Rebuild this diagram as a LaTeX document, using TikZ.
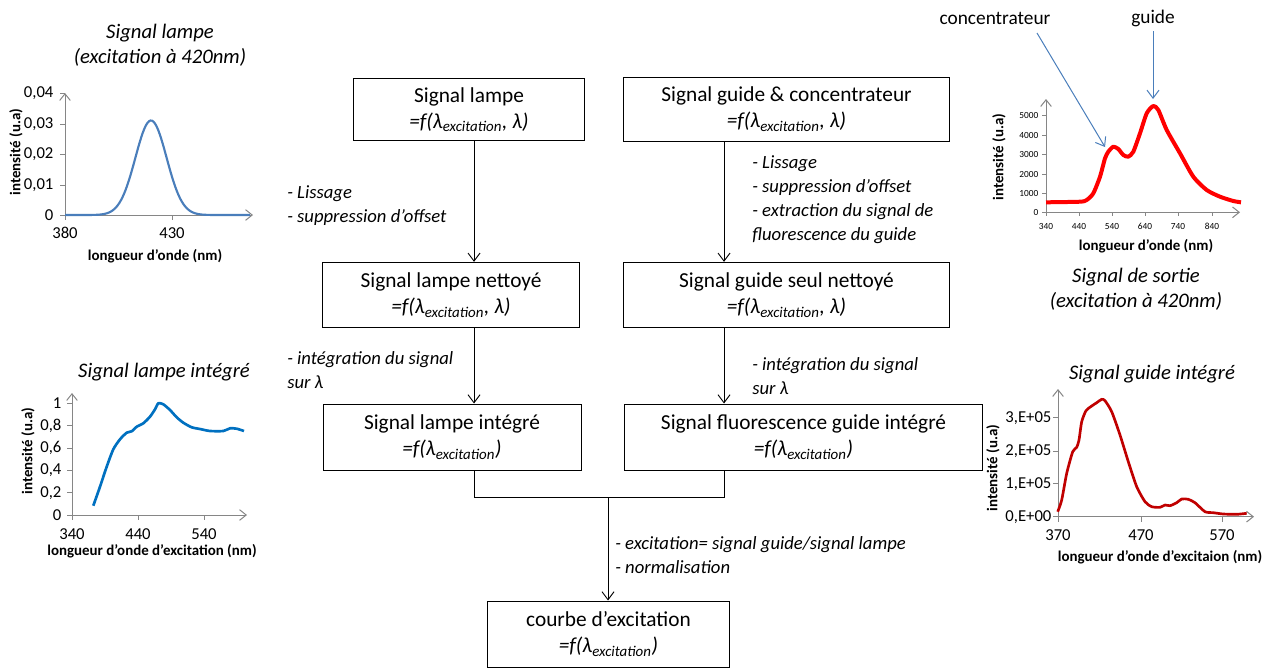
\documentclass[tikz,border=0pt]{standalone}
\usepackage{fontspec}
\setmainfont{Carlito}
\usetikzlibrary{arrows.meta}

\definecolor{axisgray}{HTML}{868686}
\definecolor{lampblue}{HTML}{4A7EBB}
\definecolor{intblue}{HTML}{0070C0}
\definecolor{guidered}{HTML}{C00000}

\begin{document}
\begin{tikzpicture}[
		x=0.75pt, y=-0.75pt,
		box/.style={draw, rectangle, align=center, inner sep=0pt, line width=0.75pt, font=\fontsize{16}{19.5}\selectfont},
		arrow/.style={-{Straight Barb[length=6pt,width=9pt]}, line width=0.7pt},
		note/.style={anchor=west, align=left, inner sep=0pt, font=\fontsize{14}{18}\selectfont\itshape},
		axis/.style={draw=axisgray, line width=0.75pt, -{Straight Barb[length=5pt,width=8pt]}},
		tickmark/.style={axisgray, line width=0.75pt},
		ticklbl/.style={inner sep=1pt, font=\fontsize{12.5}{14}\selectfont},
		smalltick/.style={inner sep=1pt, font=\fontsize{7}{8}\selectfont},
		axtitle/.style={inner sep=0pt, font=\fontsize{11.2}{13}\selectfont\bfseries},
		ctitle/.style={align=center, font=\fontsize{15.5}{19}\selectfont\itshape},
		annot/.style={draw=lampblue, line width=0.75pt, -{Straight Barb[length=6pt,width=9pt]}}
		]
		
		\useasboundingbox (0,0) rectangle (1266,668);
		
		% flowchart
		\node[box, minimum width=173pt, minimum height=47pt] (lamp) at (469,109.5) {Signal lampe\\\textit{=f(λ\textsubscript{excitation}, λ)}};
		\node[box, minimum width=244pt, minimum height=48pt] (guide) at (786.5,109) {Signal guide \& concentrateur\\\textit{=f(λ\textsubscript{excitation}, λ)}};
		\node[box, minimum width=193pt, minimum height=49pt] (lampclean) at (451,295) {Signal lampe nettoyé\\\textit{=f(λ\textsubscript{excitation}, λ)}};
		\node[box, minimum width=244pt, minimum height=49pt] (guideclean) at (786.5,295) {Signal guide seul nettoyé\\\textit{=f(λ\textsubscript{excitation}, λ)}};
		\node[box, minimum width=193.5pt, minimum height=49.5pt] (lampint) at (452,437) {Signal lampe intégré\\\textit{=f(λ\textsubscript{excitation})}};
		\node[box, minimum width=268.5pt, minimum height=49.5pt] (guideint) at (803.5,437) {Signal fluorescence guide intégré\\\textit{=f(λ\textsubscript{excitation})}};
		\node[box, minimum width=182pt, minimum height=49.5pt] (curve) at (608.5,634) {courbe d’excitation\\\textit{=f(λ\textsubscript{excitation})}};
		
		\coordinate (colL) at (474,0);
		\coordinate (colR) at (724,0);
		\coordinate (join) at (608,497);
		
		\draw[arrow] (lamp.south -| colL) -- (lampclean.north -| colL);
		\draw[arrow] (lampclean.south -| colL) -- (lampint.north -| colL);
		\draw[arrow] (guide.south -| colR) -- (guideclean.north -| colR);
		\draw[arrow] (guideclean.south -| colR) -- (guideint.north -| colR);
		\draw[line width=0.7pt] (lampint.south -| colL) |- (join) -| (guideint.south -| colR);
		\draw[arrow] (join) -- (curve.north -| join);
		
		\node[note] (lissL) at (287,205.5) {- Lissage\\- suppression d’offset};
		\node[note] (lissR) at (752,200) {- Lissage\\- suppression d’offset\\- extraction du signal de\\fluorescence du guide};
		\node[note] (integL) at (287,370.5) {- intégration du signal\\sur λ};
		\node[note] (integR) at (752,376) {- intégration du signal\\sur λ};
		\node[note] (ratio) at (615,555) {- excitation= signal guide/signal lampe\\- normalisation};
		
		% signal lampe (top left)
		\node[ctitle] (t1) at (160,45) {Signal lampe\\(excitation à 420nm)};
		\draw[axis] (65,215) -- (65,93);
		\draw[axis] (65,215) -- (253,215);
		\foreach \y/\lbl in {215/0, 185/{0,01}, 154/{0,02}, 124/{0,03}, 93/{0,04}} {
			\draw[tickmark] (60,\y) -- (65,\y);
			\node[ticklbl, anchor=east] (a\y) at (55,\y) {\lbl};
		}
		\foreach \x/\lbl in {65/380, 172/430} {
			\draw[tickmark] (\x,215) -- (\x,220);
			\node[ticklbl] (b\x) at (\x,233) {\lbl};
		}
		\draw[lampblue, line width=1.6pt] plot[domain=65:250, samples=120] (\x, {215-94.5*exp(-((\x-151)*(\x-151))/486.7)});
		\node[axtitle] (x1) at (155,256) {longueur d'onde (nm)};
		\node[axtitle, rotate=90] (y1) at (16,152) {intensité (u.a)};
		
		% signal lampe integre (bottom left)
		\node[ctitle] (t2) at (164,372) {Signal lampe intégré};
		\draw[axis] (72,515) -- (72,393);
		\draw[axis] (72,515) -- (247,515);
		\foreach \y/\lbl in {515/0, 492.7/{0,2}, 470.3/{0,4}, 448/{0,6}, 425.7/{0,8}, 403.3/1} {
			\draw[tickmark] (67,\y) -- (72,\y);
			\node[ticklbl, anchor=east] (c\y) at (63,\y) {\lbl};
		}
		\foreach \x/\lbl in {72/340, 138/440, 204/540} {
			\draw[tickmark] (\x,515) -- (\x,520);
			\node[ticklbl] (d\x) at (\x,534) {\lbl};
		}
		\draw[intblue, line width=2pt, line join=round] plot[smooth, tension=0.4] coordinates {(93.3,505.7) (100,486.7) (106.7,466.7) (113.3,449.3) (120,439.3) (126.7,432.7) (131.7,431.3) (136.7,426.7) (143.3,423.3) (150,416.7) (155,409.3) (158.3,403.3) (163.3,404.3) (170,410) (176.7,417.3) (183.3,422.7) (191.7,427.3) (200,429) (210,431) (223.3,431) (230,428.3) (236.7,428.7) (244,431)};
		\node[axtitle] (x2) at (152,551) {longueur d'onde d’excitation (nm)};
		\node[axtitle, rotate=90] (y2) at (28,451) {intensité (u.a)};
		
		% signal de sortie (top right)
		\node[font=\fontsize{14.5}{17}\selectfont] (concLbl) at (995,18) {concentrateur};
		\node[font=\fontsize{14.5}{17}\selectfont] (guideLbl) at (1153,18) {guide};
		\coordinate (concTail) at (1037,33);
		\coordinate (concPeak) at (1105,147);
		\coordinate (guidePeak) at (1153,99);
		\draw[annot] (concTail) -- (concPeak);
		\draw[annot] (guideLbl.south) -- (guidePeak);
		\draw[axis] (1046,212.3) -- (1046,99);
		\draw[axis] (1046,212.3) -- (1240,212.3);
		\foreach \y/\lbl in {212.3/0, 193.3/1000, 174/2000, 154.3/3000, 135/4000, 115.7/5000} {
			\draw[tickmark] (1042,\y) -- (1046,\y);
			\node[smalltick, anchor=east] (e\y) at (1040,\y) {\lbl};
		}
		\foreach \x/\lbl in {1046/340, 1079/440, 1112/540, 1145/640, 1178/740, 1212/840} {
			\draw[tickmark] (\x,212.3) -- (\x,216.3);
			\node[smalltick] (f\x) at (\x,226) {\lbl};
		}
		\draw[red, line width=3pt, line join=round] plot[smooth, tension=0.4] coordinates {(1046,202.3) (1080,201.7) (1086.7,200) (1093.3,193.3) (1100,176.7) (1105,158.3) (1108.3,151.7) (1113.3,146.7) (1118.3,149) (1123.3,155) (1128.3,156.7) (1133.3,151.7) (1140,133.3) (1146.7,113.3) (1153.3,106) (1158.3,110) (1166.7,130) (1180,153.3) (1193.3,176.7) (1206.7,190) (1220,196.7) (1233.3,201) (1241,202.3)};
		\node[axtitle] (x3) at (1146,246) {longueur d'onde (nm)};
		\node[axtitle, rotate=90] (y3) at (999,157) {intensité (u.a)};
		\node[ctitle] (t3) at (1136,289) {Signal de sortie\\(excitation à 420nm)};
		
		% signal guide integre (bottom right)
		\node[ctitle] (t4) at (1152,374) {Signal guide intégré};
		\draw[axis] (1058,516.7) -- (1058,389);
		\draw[axis] (1058,516.7) -- (1254,516.7);
		\foreach \y/\lbl in {516.7/{0,E+00}, 483.7/{1,E+05}, 451/{2,E+05}, 417.7/{3,E+05}} {
			\draw[tickmark] (1053,\y) -- (1058,\y);
			\node[ticklbl, anchor=east] (g\y) at (1053,\y) {\lbl};
		}
		\foreach \x/\lbl in {1058/370, 1141/470, 1222/570} {
			\draw[tickmark] (\x,516.7) -- (\x,521.7);
			\node[ticklbl] (h\x) at (\x,535) {\lbl};
		}
		\draw[guidered, line width=2pt, line join=round] plot[smooth, tension=0.4] coordinates {(1057.7,511.7) (1061.7,500) (1066.7,473.3) (1072.7,451.7) (1076.7,447.3) (1079,440) (1081.7,421.7) (1086,410.7) (1091.7,406) (1096.7,402.7) (1101.7,399.3) (1105,400.7) (1111.7,411.7) (1120,435) (1128.3,461.7) (1136.7,486.7) (1145,501.7) (1151.7,506.7) (1160,507.3) (1165,505) (1170,505.7) (1176.7,502.7) (1181.7,499) (1188.3,499.3) (1195,502.7) (1205,511.7) (1213.3,512.7) (1223.3,514) (1236.7,514.3) (1246.7,513.3)};
		\node[axtitle] (x4) at (1160,557) {longueur d'onde d'excitaion (nm)};
		\node[axtitle, rotate=90] (y4) at (993,468) {intensité (u.a)};
		
	\end{tikzpicture}
\end{document}
